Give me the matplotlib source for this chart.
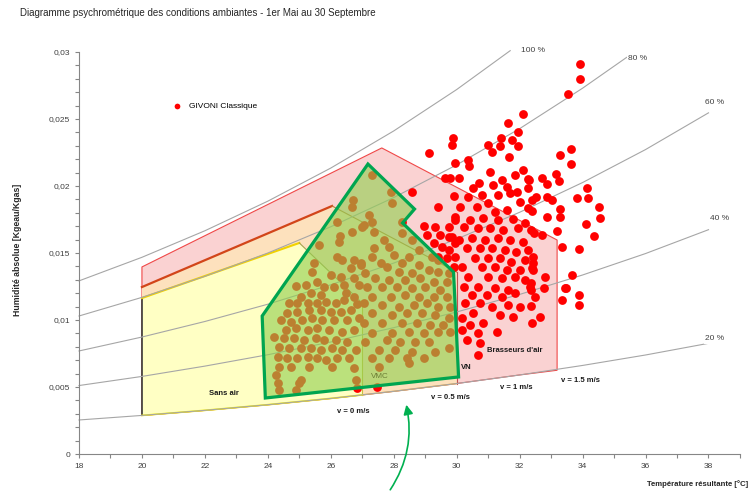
import matplotlib.pyplot as plt
from matplotlib.patches import Polygon

plt.rcParams['font.family'] = ['Liberation Sans', 'DejaVu Sans']

#----------------------------------data----------------------------------

title = "Diagramme psychrométrique des conditions ambiantes - 1er Mai au 30 Septembre"
xlabel = "Température résultante [°C]"
ylabel = "Humidité absolue [Kgeau/Kgas]"

xticks = [18, 20, 22, 24, 26, 28, 30, 32, 34, 36, 38]
yticks = [0, 0.005, 0.01, 0.015, 0.02, 0.025, 0.03]
ytick_labels = ["0", "0,005", "0,01", "0,015", "0,02", "0,025", "0,03"]

# relative humidity curves (temperature, absolute humidity)
rh_t = [18, 20, 22, 24, 26, 28, 30, 32, 34, 36, 38]
rh100_t = [18, 20, 22, 24, 26, 28, 30, 31.7]
rh100_w = [0.01292, 0.01468, 0.01666, 0.01887, 0.02134, 0.02411, 0.02720, 0.0301]
rh80_t = [18, 20, 22, 24, 26, 28, 30, 32, 34, 35.4]
rh80_w = [0.01030, 0.01169, 0.01326, 0.01500, 0.01696, 0.01914, 0.02158, 0.02428, 0.02730, 0.02960]
rh60_w = [0.00769, 0.00873, 0.00989, 0.01118, 0.01263, 0.01425, 0.01604, 0.01804, 0.02026, 0.02272, 0.02546]
rh40_w = [0.00511, 0.00579, 0.00656, 0.00741, 0.00836, 0.00943, 0.01060, 0.01191, 0.01336, 0.01496, 0.01674]
rh20_w = [0.00254, 0.00288, 0.00326, 0.00368, 0.00415, 0.00468, 0.00526, 0.00590, 0.00661, 0.00739, 0.00826]
rh_labels = ["100 %", "80 %", "60 %", "40 %", "20 %"]
rh_label_t = [32.05, 35.45, 37.9, 38.05, 37.9]
rh_label_w = [0.0301, 0.02955, 0.0262, 0.01755, 0.0086]

# Givoni zones
brass_t = [20, 20, 27.62, 33.19, 33.19, 32, 30, 28, 26, 24, 22]
brass_w = [0.00288, 0.01396, 0.02284, 0.01597, 0.00625, 0.00590, 0.00526, 0.00468, 0.00415, 0.00368, 0.00326]
vn_t = [20, 20, 26.04, 30.0, 30.0, 28, 26, 24, 22]
vn_w = [0.00288, 0.01246, 0.01851, 0.01358, 0.00526, 0.00468, 0.00415, 0.00368, 0.00326]
sans_t = [20, 20, 25.0, 27.0, 27.0, 26, 24, 22]
sans_w = [0.00288, 0.01164, 0.01575, 0.01127, 0.00441, 0.00415, 0.00368, 0.00326]
vmc_t = [23.82, 23.92, 30.06, 29.90, 28.28, 28.66, 27.18]
vmc_w = [0.01030, 0.00418, 0.00575, 0.01358, 0.01724, 0.01828, 0.02164]

zone_labels = ["Sans air", "VMC", "VN", "Brasseurs d'air", "v = 0 m/s", "v = 0.5 m/s", "v = 1 m/s", "v = 1.5 m/s"]
zone_label_t = [22.62, 27.56, 30.31, 31.83, 26.73, 29.80, 31.89, 33.92]
zone_label_w = [0.00455, 0.00582, 0.00642, 0.00769, 0.00321, 0.00425, 0.00493, 0.00545]

# measured points - GIVONI Classique (inside the VMC zone)
temp_a = [26.71, 26.68, 26.21, 26.68, 26.29, 26.26, 27.00, 25.63, 26.21, 26.36, 26.73, 26.63, 26.95, 25.47,
          25.41, 26.00, 26.31, 26.73, 25.57, 25.21, 24.89, 25.78, 26.10, 26.42, 26.89, 25.36, 25.68, 25.05,
          26.47, 26.73, 24.68, 24.94, 25.26, 25.57, 25.84, 26.16, 26.42, 26.84, 24.62, 24.94, 25.31, 25.68,
          26.00, 26.31, 26.63, 24.41, 24.73, 25.10, 25.41, 25.73, 26.10, 26.52, 26.89, 24.57, 24.89, 25.26,
          25.57, 25.94, 26.36, 26.73, 24.20, 24.52, 24.84, 25.15, 25.52, 25.78, 26.16, 26.52, 24.36, 24.68,
          25.05, 25.36, 25.68, 26.05, 26.36, 26.79, 24.31, 24.62, 24.94, 25.26, 25.57, 25.84, 26.21, 26.58,
          24.36, 24.73, 25.31, 26.05, 26.73, 24.26, 25.05, 24.99, 24.89, 24.36, 26.79, 24.31,
          27.31, 27.90, 27.95, 27.21, 27.31, 27.05, 28.26, 27.37, 28.26, 27.68, 27.84, 27.37, 28.58, 28.79,
          27.31, 28.00, 28.47, 29.21, 26.95, 27.58, 27.79, 28.26, 28.79, 29.42, 27.10, 28.16, 28.58, 29.11,
          29.42, 29.74, 27.42, 27.84, 28.37, 28.84, 29.27, 29.69, 27.16, 27.63, 28.10, 28.58, 29.00, 29.48,
          27.31, 27.90, 28.37, 28.79, 29.27, 29.69, 27.05, 27.63, 28.16, 28.63, 29.05, 29.42, 29.79, 27.31,
          27.95, 28.42, 28.90, 29.32, 29.74, 27.05, 27.63, 28.26, 28.74, 29.16, 29.58, 27.31, 27.95, 28.47,
          28.95, 29.42, 29.79, 27.10, 27.79, 28.21, 28.69, 29.11, 27.53, 28.05, 28.58, 29.32, 29.74, 27.31,
          28.42, 28.47, 27.84, 28.95, 27.53]
hum_a = [0.01896, 0.01846, 0.01734, 0.01659, 0.01627, 0.01584, 0.01696, 0.01560, 0.01468, 0.01448, 0.01448,
         0.01386, 0.01410, 0.01423, 0.01360, 0.01336, 0.01323, 0.01311, 0.01286, 0.01261, 0.01254, 0.01249,
         0.01249, 0.01261, 0.01261, 0.01199, 0.01187, 0.01174, 0.01199, 0.01174, 0.01125, 0.01125, 0.01129,
         0.01125, 0.01137, 0.01125, 0.01149, 0.01119, 0.01054, 0.01062, 0.01075, 0.01075, 0.01062, 0.01062,
         0.01075, 0.01000, 0.00987, 0.01000, 0.01013, 0.01000, 0.01000, 0.01000, 0.01013, 0.00925, 0.00938,
         0.00925, 0.00938, 0.00925, 0.00913, 0.00925, 0.00875, 0.00863, 0.00863, 0.00851, 0.00863, 0.00851,
         0.00851, 0.00838, 0.00801, 0.00789, 0.00789, 0.00789, 0.00776, 0.00789, 0.00776, 0.00776, 0.00726,
         0.00714, 0.00714, 0.00726, 0.00714, 0.00701, 0.00714, 0.00714, 0.00651, 0.00651, 0.00651, 0.00651,
         0.00640, 0.00590, 0.00552, 0.00528, 0.00478, 0.00478, 0.00552, 0.00528,
         0.02082, 0.01957, 0.01871, 0.01784, 0.01734, 0.01709, 0.01734, 0.01659, 0.01647, 0.01597, 0.01547,
         0.01535, 0.01597, 0.01522, 0.01472, 0.01485, 0.01472, 0.01472, 0.01423, 0.01423, 0.01398, 0.01423,
         0.01410, 0.01448, 0.01349, 0.01360, 0.01349, 0.01373, 0.01360, 0.01349, 0.01311, 0.01299, 0.01299,
         0.01311, 0.01286, 0.01286, 0.01249, 0.01249, 0.01249, 0.01237, 0.01249, 0.01224, 0.01174, 0.01174,
         0.01187, 0.01174, 0.01174, 0.01174, 0.01125, 0.01112, 0.01099, 0.01112, 0.01125, 0.01099, 0.01099,
         0.01050, 0.01037, 0.01050, 0.01050, 0.01037, 0.01013, 0.00975, 0.00975, 0.00975, 0.00975, 0.00963,
         0.00963, 0.00901, 0.00901, 0.00913, 0.00901, 0.00913, 0.00913, 0.00838, 0.00851, 0.00838, 0.00838,
         0.00838, 0.00776, 0.00776, 0.00763, 0.00763, 0.00789, 0.00714, 0.00714, 0.00677, 0.00714, 0.00714,
         0.00651]

# measured points - GIVONI Classique (outside the VMC zone)
temp_b = [33.91, 33.93, 33.54, 33.62, 33.28, 33.64, 33.14, 32.72, 32.88, 33.24, 32.30, 34.15, 33.82, 34.17,
          32.87, 33.03, 32.53, 32.38, 34.52, 33.28, 32.38, 34.54, 32.88, 33.28, 34.12, 33.20, 32.46, 32.72,
          34.35, 33.36, 33.89, 32.43, 32.41, 32.41, 33.67, 32.82, 32.36, 33.43, 32.77, 32.36, 32.48, 33.36,
          33.89, 33.89, 32.64, 32.40, 33.48,
          32.11, 31.64, 31.96, 29.87, 29.85, 31.41, 31.01, 31.77, 31.11, 31.96, 31.66, 30.35, 29.95, 30.39,
          31.06, 31.37, 32.11, 31.85, 31.43, 32.27, 29.79, 30.06, 30.71, 31.16, 30.53, 31.59, 31.93, 32.27,
          29.90, 30.37, 30.79, 31.32, 31.69, 30.98, 30.64, 30.11, 32.01, 32.27, 31.59, 31.22, 29.95, 30.43,
          30.85, 31.32, 31.80, 32.17, 30.22, 30.69, 31.06, 31.48, 31.96, 32.36, 29.85, 30.06, 30.48, 30.90,
          31.32, 31.69, 32.11, 30.32, 30.74, 31.11, 31.53, 31.90, 32.27, 29.95, 30.59, 31.01, 31.37, 31.74,
          32.17, 30.16, 30.79, 31.22, 31.59, 32.01, 32.38, 30.37, 31.01, 31.43, 31.85, 32.17, 30.22, 30.69,
          31.22, 31.64, 32.32, 30.48, 30.95, 31.43, 31.85, 30.27, 30.74, 31.11, 31.64, 32.01, 30.53, 31.37,
          32.36, 31.80, 30.16, 30.43, 30.85, 31.27, 30.69, 30.16, 30.74, 30.32, 30.67,
          29.11, 28.58, 29.42, 29.64, 28.95, 29.32, 29.74, 29.95, 29.05, 29.48, 29.74, 29.27, 29.53, 29.74,
          29.42, 29.69, 29.90, 29.95, 27.47, 26.83]
hum_b = [0.02910, 0.02796, 0.02687, 0.02274, 0.02231, 0.02162, 0.02090, 0.02057, 0.02015, 0.02037, 0.02045,
         0.01987, 0.01913, 0.01913, 0.01920, 0.01896, 0.01920, 0.01896, 0.01846, 0.01826, 0.01813, 0.01759,
         0.01766, 0.01766, 0.01714, 0.01666, 0.01651, 0.01634, 0.01627, 0.01547, 0.01528, 0.01468, 0.01423,
         0.01373, 0.01334, 0.01323, 0.01278, 0.01241, 0.01237, 0.01224, 0.01174, 0.01149, 0.01187, 0.01112,
         0.01025, 0.00980, 0.01237,
         0.02537, 0.02468, 0.02405, 0.02356, 0.02306, 0.02356, 0.02306, 0.02343, 0.02256, 0.02299, 0.02214,
         0.02194, 0.02169, 0.02149, 0.02107, 0.02299, 0.02119, 0.02082, 0.02045, 0.02050, 0.02057, 0.02057,
         0.02020, 0.02007, 0.01983, 0.01990, 0.01957, 0.01983, 0.01925, 0.01920, 0.01933, 0.01933, 0.01946,
         0.01871, 0.01846, 0.01846, 0.01883, 0.01834, 0.01821, 0.01808, 0.01771, 0.01746, 0.01759, 0.01746,
         0.01751, 0.01722, 0.01696, 0.01684, 0.01684, 0.01672, 0.01684, 0.01672, 0.01622, 0.01597, 0.01610,
         0.01597, 0.01610, 0.01597, 0.01584, 0.01535, 0.01535, 0.01535, 0.01522, 0.01510, 0.01522, 0.01472,
         0.01460, 0.01460, 0.01460, 0.01435, 0.01448, 0.01398, 0.01398, 0.01398, 0.01373, 0.01373, 0.01386,
         0.01323, 0.01323, 0.01311, 0.01323, 0.01299, 0.01249, 0.01249, 0.01237, 0.01224, 0.01249, 0.01187,
         0.01187, 0.01174, 0.01199, 0.01125, 0.01125, 0.01099, 0.01112, 0.01099, 0.01050, 0.01037, 0.01104,
         0.01025, 0.01013, 0.00963, 0.00975, 0.00913, 0.00901, 0.00925, 0.00826, 0.00851, 0.00739,
         0.02244, 0.01957, 0.01841, 0.02057, 0.01701, 0.01692, 0.01696, 0.01746, 0.01634, 0.01634, 0.01622,
         0.01572, 0.01547, 0.01522, 0.01472, 0.01460, 0.01398, 0.01572, 0.00502, 0.00493]

#----------------------------------figure----------------------------------

fig = plt.figure(figsize=(7.53, 4.92), dpi=100)
ax = fig.add_axes([0.1049, 0.0772, 0.8778, 0.8171])
ax.set_xlim(18, 39)
ax.set_ylim(0, 0.03)

# zones (fills)
ax.add_patch(Polygon(list(zip(brass_t, brass_w)), closed=True, fc='#fad2d2', ec='none', zorder=1))
ax.add_patch(Polygon(list(zip(vn_t, vn_w)), closed=True, fc='#fde1bd', ec='none', zorder=1.2))
ax.add_patch(Polygon(list(zip(sans_t, sans_w)), closed=True, fc='#ffffc4', ec='none', zorder=1.4))

# zone edges
ax.add_patch(Polygon(list(zip(brass_t, brass_w)), closed=True, fill=False, ec='#f04848', lw=0.8, zorder=1.1))
ax.plot(vn_t[1:3], vn_w[1:3], color='#d2451a', lw=1.6, zorder=1.3)
ax.plot(vn_t[2:4], vn_w[2:4], color='#b9803f', lw=0.8, zorder=1.3)
ax.plot(vn_t[3:5], vn_w[3:5], color='#c0504d', lw=0.8, zorder=1.3)
ax.plot(vn_t[4:] + vn_t[:1], vn_w[4:] + vn_w[:1], color='#f5b041', lw=1.0, zorder=1.3)
ax.plot(sans_t[0:2], sans_w[0:2], color='#3a3a3a', lw=1.2, zorder=1.5)
ax.plot(sans_t[1:3], sans_w[1:3], color='#f2d200', lw=1.5, zorder=1.5)
ax.plot(sans_t[2:4], sans_w[2:4], color='#a8a050', lw=0.8, zorder=1.5)
ax.plot(sans_t[3:5], sans_w[3:5], color='#c8c040', lw=0.8, zorder=1.5)
ax.plot(sans_t[4:] + sans_t[:1], sans_w[4:] + sans_w[:1], color='#f5f000', lw=1.2, zorder=1.5)

# relative humidity curves
rh_curves = [(rh100_t, rh100_w), (rh80_t, rh80_w), (rh_t, rh60_w), (rh_t, rh40_w), (rh_t, rh20_w)]
for (t, w) in rh_curves:
    ax.plot(t, w, color='#a6a6a6', lw=0.8, zorder=2, clip_on=False)
for lab, t, w in zip(rh_labels, rh_label_t, rh_label_w):
    ax.text(t, w, lab, fontsize=6, color='#404040', ha='left', va='center', zorder=3,
            bbox=dict(fc='white', ec='none', pad=1))

# points
ax.scatter(temp_a + temp_b, hum_a + hum_b, s=40, c='#ff0000', lw=0, zorder=4, label='GIVONI Classique')

# VMC zone on top, semi transparent
ax.add_patch(Polygon(list(zip(vmc_t, vmc_w)), closed=True, fc='#92d050', alpha=0.62, ec='none', zorder=5))
ax.add_patch(Polygon(list(zip(vmc_t, vmc_w)), closed=True, fill=False, ec='#00a550', lw=2.3, zorder=6))

# zone labels
for lab, t, w in zip(zone_labels, zone_label_t, zone_label_w):
    if lab == "VMC":
        ax.text(t, w, lab, fontsize=5.8, color='#6b7d35', ha='center', va='center', zorder=7)
    else:
        ax.text(t, w, lab, fontsize=5.5, color='#1a1a1a', fontweight='bold', ha='center', va='center', zorder=7)

# green arrow under the chart
ax.annotate('', xy=(28.38, 0.00388), xytext=(27.84, -0.00284), xycoords='data',
            arrowprops=dict(arrowstyle='-|>', color='#00b050', lw=1.2, mutation_scale=14,
                            connectionstyle='arc3,rad=0.22'),
            annotation_clip=False, zorder=8)

# axes style
for s in ['top', 'right']:
    ax.spines[s].set_visible(False)
for s in ['left', 'bottom']:
    ax.spines[s].set_color('#868686')
    ax.spines[s].set_linewidth(0.8)
ax.set_xticks(xticks)
ax.set_xticks(range(19, 40, 2), minor=True)
ax.set_yticks(yticks)
ax.set_yticklabels(ytick_labels)
ax.set_yticks([i / 1000 for i in range(0, 31)], minor=True)
ax.tick_params(which='both', direction='out', length=3, width=0.8, color='#868686',
               labelsize=6, labelcolor='#404040')

leg = ax.legend(loc='center left', bbox_to_anchor=(0.125, 0.866), frameon=False, fontsize=6,
                markerscale=0.65, handletextpad=0.4)

fig.text(0.0266, 0.9736, title, fontsize=7, color='#262626', ha='left', va='center')
fig.text(0.0226, 0.492, ylabel, fontsize=6.3, fontweight='bold', color='#262626',
         rotation=90, ha='center', va='center')
fig.text(0.9934, 0.0163, xlabel, fontsize=5.6, fontweight='bold', color='#262626', ha='right', va='center')

plt.savefig('out.png', dpi=100)
